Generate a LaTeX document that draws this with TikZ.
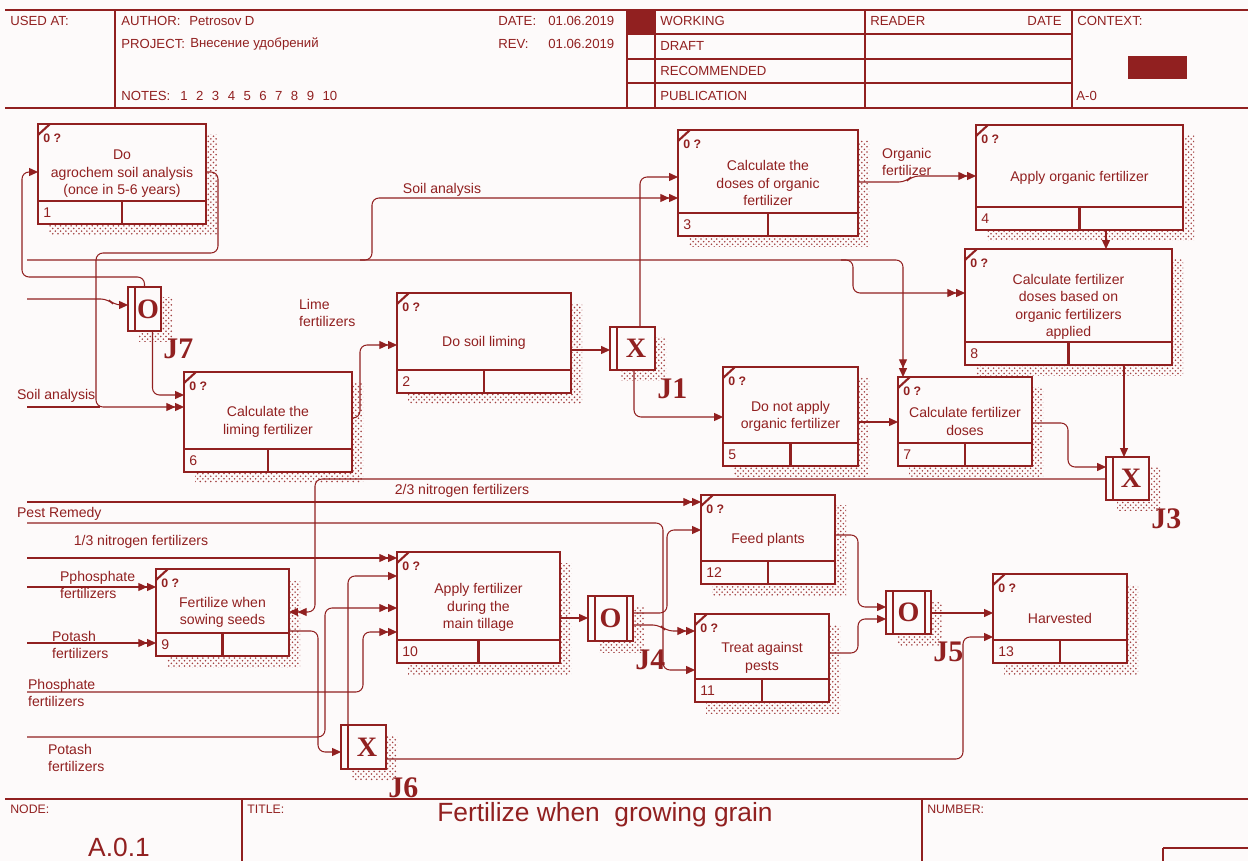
\documentclass[tikz,border=0pt]{standalone}
\usepackage{fontspec}
\setmainfont{Liberation Sans}
\newfontfamily\jfont{Liberation Serif}
\usetikzlibrary{arrows.meta,patterns,calc}
\definecolor{idef}{RGB}{145,32,32}
\definecolor{paper}{RGB}{253,250,250}

% unit of behaviour: name, x, y, width, height, number, text
\newcommand{\uob}[7]{%
  \fill[hatch] ({#2+11},{#3+11}) rectangle ++(#4,#5);
  \node[uob, minimum width={#4*0.02cm}, minimum height={#5*0.02cm}] (#1) at (#2,#3) {};
  \draw[boxline] ($(#1.south west)+(0,-23)$) -- ($(#1.south east)+(0,-23)$)
    ($(#1.south)+(0,-23)$) -- (#1.south);
  \draw[boxline] ($(#1.north west)+(0,11)$) -- ($(#1.north west)+(12,0)$);
  \node[anchor=west, inner sep=0pt, font=\bfseries\fontsize{7}{8}\selectfont] (#1-ref) at ($(#1.north west)+(5,14)$) {0 ?};
  \node[anchor=west, inner sep=0pt] (#1-num) at ($(#1.south west)+(5,-11.5)$) {#6};
  \node[align=center] (#1-txt) at (#1.center) {#7};
}
% junction: name, x, y, width, height, letter, label, sides
\newcommand{\junc}[8]{%
  \fill[hatch] ({#2+11},{#3+11}) rectangle ++(#4,#5);
  \node[uob, minimum width={#4*0.02cm}, minimum height={#5*0.02cm}] (#1) at (#2,#3) {};
  \draw[boxline] ($(#1.north west)+(7,0)$) -- ($(#1.south west)+(7,0)$);
  \ifnum#8=2
    \draw[boxline] ($(#1.north east)+(-6,0)$) -- ($(#1.south east)+(-6,0)$);
    \node[jtext] (#1-sym) at (#1.center) {#6};
  \else
    \node[jtext] (#1-sym) at ($(#1.center)+(3.5,0)$) {#6};
  \fi
  \node[jlabel] (#1-lab) at ($(#1.south east)+(2,8)$) {#7};
}

\begin{document}
\begin{tikzpicture}[x=0.02cm, y=-0.02cm, every node/.style={font=\fontsize{8}{10}\selectfont, text=idef, inner sep=1pt}]
\tikzstyle{uob}=[rectangle, draw=idef, line width=1.2pt, fill=paper, inner sep=0pt, outer sep=0pt, anchor=north west]
\tikzstyle{boxline}=[draw=idef, line width=1.2pt]
\tikzstyle{hatch}=[pattern=crosshatch dots, pattern color=idef!85]
\tikzstyle{frame}=[draw=idef, line width=0.7pt]
\tikzstyle{hdr}=[anchor=west, inner sep=0pt, font=\fontsize{7.5}{9}\selectfont]
\tikzstyle{jtext}=[inner sep=0pt, font=\jfont\bfseries\fontsize{16}{16}\selectfont]
\tikzstyle{jlabel}=[anchor=north west, inner sep=0pt, font=\jfont\bfseries\fontsize{17}{17}\selectfont]
\tikzstyle{link}=[draw=idef, line width=0.6pt, rounded corners=4pt]
\tikzstyle{flow}=[link, -{Triangle[length=5pt,width=4.5pt]}]
\tikzstyle{dflow}=[link, -{Triangle[length=5pt,width=4.5pt]Triangle[length=5pt,width=4.5pt]}]
\useasboundingbox (0,0) rectangle (1248,861);
\fill[paper] (0,0) rectangle (1248,861);

\draw[frame] (5,10) -- (1248,10) (5,108) -- (1248,108)
  (115,10) -- (115,108) (627,10) -- (627,108) (655,10) -- (655,108)
  (865,10) -- (865,108) (1072,10) -- (1072,108);
\foreach \y in {34,59,83} \draw[frame] (627,\y) -- (1072,\y);
\fill[idef] (627,10) rectangle (655,34);
\fill[idef] (1128,56) rectangle (1187,79);
\node[hdr] (usedat) at (10,21) {USED AT:};
\node[hdr] (author) at (121,21) {AUTHOR:};
\node[hdr] (authorv) at (189,21) {Petrosov D};
\node[hdr] (project) at (121,44) {PROJECT:};
\node[hdr] (projectv) at (190,44) {Внесение удобрений};
\node[hdr] (notes) at (121,96) {NOTES:};
\foreach \n in {1,...,10} \node[hdr] (note\n) at ({180+(\n-1)*15.8},96) {\n};
\node[hdr] (date) at (498,21) {DATE:};
\node[hdr] (datev) at (548,21) {01.06.2019};
\node[hdr] (rev) at (498,44) {REV:};
\node[hdr] (revv) at (548,44) {01.06.2019};
\node[hdr] (working) at (660,21) {WORKING};
\node[hdr] (draft) at (660,46) {DRAFT};
\node[hdr] (recom) at (660,71) {RECOMMENDED};
\node[hdr] (publ) at (660,96) {PUBLICATION};
\node[hdr] (reader) at (870,21) {READER};
\node[hdr, anchor=east] (rdate) at (1062,21) {DATE};
\node[hdr] (context) at (1077,21) {CONTEXT:};
\node[hdr] (actx) at (1076,96) {A-0};

\draw[frame] (5,799) -- (1248,799) (242,799) -- (242,861) (922,799) -- (922,861)
  (1163,848) -- (1248,848) (1163,848) -- (1163,861);
\node[hdr, font=\fontsize{7}{8}\selectfont] (node) at (10,809) {NODE:};
\node[hdr, font=\fontsize{7}{8}\selectfont] (title) at (247,809) {TITLE:};
\node[hdr, font=\fontsize{7}{8}\selectfont] (number) at (927,809) {NUMBER:};
\node[font=\fontsize{15}{17}\selectfont] (nodev) at (119,847) {A.0.1};
\node[font=\fontsize{15}{17}\selectfont] (titlev) at (605,815) {Fertilize when\ \ growing grain};

\uob{b1}{38}{124}{168}{100}{1}{Do\\agrochem soil analysis\\(once in 5-6 years)}
\uob{b6}{184}{372}{168}{100}{6}{Calculate the\\liming fertilizer}
\uob{b2}{397}{293}{174}{100}{2}{Do soil liming}
\uob{b3}{678}{130}{180}{106}{3}{Calculate the\\doses of organic\\fertilizer}
\uob{b4}{976}{125}{207}{105}{4}{Apply organic fertilizer}
\uob{b8}{965}{249}{207}{116}{8}{Calculate fertilizer\\doses based on\\organic fertilizers\\applied}
\uob{b5}{723}{367}{135}{99}{5}{Do not apply\\organic fertilizer}
\uob{b7}{898}{377}{134}{89}{7}{Calculate fertilizer\\doses}
\uob{b9}{156}{569}{133}{87}{9}{Fertilize when\\sowing seeds}
\uob{b10}{397}{552}{163}{111}{10}{Apply fertilizer\\during the\\main tillage}
\uob{b12}{701}{495}{134}{89}{12}{Feed plants}
\uob{b11}{695}{614}{134}{88}{11}{Treat against\\pests}
\uob{b13}{993}{574}{134}{89}{13}{Harvested}
\junc{j7}{128}{287}{33}{44}{O}{J7}{1}
\junc{j1}{610}{327}{45}{43}{X}{J1}{1}
\junc{j3}{1106}{457}{43}{43}{X}{J3}{1}
\junc{j6}{341}{725}{45}{44}{X}{J6}{1}
\junc{j4}{588}{596}{45}{45}{O}{J4}{2}
\junc{j5}{886}{591}{45}{43}{O}{J5}{2}

\coordinate (in1) at (27,407);
\coordinate (in2) at (27,260);
\coordinate (in3) at (27,299);
\coordinate (in4) at (27,502);
\coordinate (in5) at (27,523);
\coordinate (in6) at (27,558);
\coordinate (in7) at (27,587);
\coordinate (in8) at (27,643);
\coordinate (in9) at (27,692);
\coordinate (in10) at (27,737);

\draw[dflow] (b1.east |- 0,172) -- (218,172) -- (218,253) -- (96,253) -- (96,407) -- (b6.west |- 0,407);
\draw[link] (in1) -- (100,407);
\draw[dflow] (in2) -- (903,260) -- (b7.north -| 903,0);
\draw[dflow] (360,260) -- (372,260) |- (b3.west |- 0,198);
\draw[dflow] (841,260) -- (853,260) |- (b8.west |- 0,293);
\draw[flow] (j7.north) |- (22,277) |- (b1.west |- 0,172);
\draw[flow] (in3) -- (108,299) -- (114,305) -- (j7.west |- 0,305);
\draw[flow] ($(j7.south)+(8,0)$) |- (b6.west |- 0,395);
\draw[dflow] (b6.east |- 0,418) -- (360,418) |- (b2.west |- 0,345);
\draw[flow] (b2.east |- 0,350) -- (j1.west |- 0,350);
\draw[flow] (j1.north -| 640,0) |- (b3.west |- 0,177);
\draw[flow] (j1.south -| 634,0) |- (b5.west |- 0,417);
\draw[dflow] (b3.east |- 0,182) -- (906,182) -- (912,176) -- (b4.west |- 0,176);
\draw[flow] (b4.south -| 1106,0) -- (b8.north -| 1106,0);
\draw[flow] (b5.east |- 0,422) -- (b7.west |- 0,422);
\draw[flow] (b7.east |- 0,423) -- (1068,423) |- (j3.west |- 0,467);
\draw[flow] (b8.south -| 1124,0) -- (j3.north -| 1124,0);
\draw[dflow] (j3.west |- 0,479) -| (315,612) -- (b9.east |- 0,612);

\draw[dflow] (in4) -- (b12.west |- 0,502);
\draw[flow] (in5) -- (663,523) |- (b11.west |- 0,670);
\draw[dflow] (in6) -- (b10.west |- 0,558);
\draw[dflow] (in7) -- (b9.west |- 0,587);
\draw[dflow] (in8) -- (b9.west |- 0,643);
\draw[dflow] (in9) -- (363,692) |- (b10.west |- 0,632);
\draw[dflow] (in10) -- (325,737) |- (b10.west |- 0,608);
\draw[flow] (b9.east |- 0,631) -- (318,631) |- (j6.west |- 0,752);
\draw[flow] (j6.north -| 348,0) |- (b10.west |- 0,576);
\draw[flow] (j6.east |- 0,759) -- (963,759) |- (b13.west |- 0,637);
\draw[flow] (b10.east |- 0,618) -- (j4.west |- 0,618);
\draw[flow] (j4.east |- 0,613) -- (667,613) |- (b12.west |- 0,530);
\draw[dflow] (j4.east |- 0,625) -- (660,625) -- (666,631) -- (b11.west |- 0,631);
\draw[flow] (b12.east |- 0,535) -- (858,535) |- (j5.west |- 0,607);
\draw[flow] (b11.east |- 0,653) -- (858,653) |- (j5.west |- 0,619);
\draw[flow] (j5.east |- 0,613) -- (b13.west |- 0,613);

\node[anchor=west] (lsoil1) at (15,396) {Soil analysis};
\node (lsoil2) at (442,190) {Soil analysis};
\node[anchor=west, align=left] (llime) at (297,313) {Lime\\fertilizers};
\node[anchor=west, align=left] (lorg) at (880,162) {Organic\\fertilizer};
\node (lnit2) at (462,491) {2/3 nitrogen fertilizers};
\node[anchor=west] (lpest) at (15,514) {Pest Remedy};
\node (lnit1) at (141,542) {1/3 nitrogen fertilizers};
\node[anchor=west, align=left] (lpph) at (58,585) {Pphosphate\\fertilizers};
\node[anchor=west, align=left] (lpot1) at (50,645) {Potash\\fertilizers};
\node[anchor=west, align=left] (lph) at (26,693) {Phosphate\\fertilizers};
\node[anchor=west, align=left] (lpot2) at (46,758) {Potash\\fertilizers};
\end{tikzpicture}
\end{document}
